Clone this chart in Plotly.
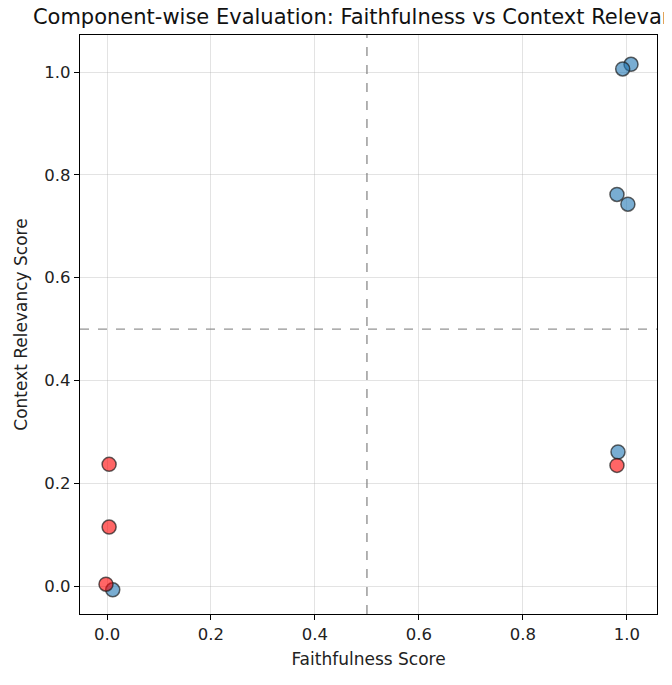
import plotly.graph_objects as go

# Data
blue_faith = [1.008, 0.992, 0.981, 1.002, 0.983, 0.011]
blue_ctx = [1.015, 1.006, 0.762, 0.743, 0.261, -0.007]
red_faith = [0.981, 0.004, 0.004, -0.002]
red_ctx = [0.235, 0.237, 0.115, 0.004]

x_ticks = [0.0, 0.2, 0.4, 0.6, 0.8, 1.0]
y_ticks = [0.0, 0.2, 0.4, 0.6, 0.8, 1.0]

font = "DejaVu Sans"

fig = go.Figure()
fig.add_trace(go.Scatter(
    x=blue_faith, y=blue_ctx, mode="markers",
    marker=dict(size=14, color="rgba(31,119,180,0.6)",
                line=dict(color="rgba(30,30,30,0.7)", width=1.5)),
    showlegend=False))
fig.add_trace(go.Scatter(
    x=red_faith, y=red_ctx, mode="markers",
    marker=dict(size=14, color="rgba(255,0,0,0.6)",
                line=dict(color="rgba(30,30,30,0.7)", width=1.5)),
    showlegend=False))

fig.add_vline(x=0.5, line=dict(color="rgba(128,128,128,0.85)", width=1.4, dash="dash"))
fig.add_hline(y=0.5, line=dict(color="rgba(128,128,128,0.85)", width=1.4, dash="dash"))

axis_common = dict(
    showline=True, linecolor="black", linewidth=1.3, mirror=True,
    ticks="outside", ticklen=5, tickcolor="black",
    showgrid=True, gridcolor="rgba(176,176,176,0.35)", gridwidth=1,
    zeroline=False, tickfont=dict(family=font, size=16.5, color="#222"),
)

fig.update_layout(
    width=672, height=685,
    margin=dict(l=67, r=23, t=27, b=79),
    paper_bgcolor="white", plot_bgcolor="white",
    title=dict(text="Component-wise Evaluation: Faithfulness vs Context Relevancy",
               x=358/672, xanchor="center", y=1 - 9/685, yanchor="middle",
               font=dict(family=font, size=21, color="#111")),
    xaxis=dict(range=[-0.052, 1.058], tickvals=x_ticks, tickformat=".1f",
               title=dict(text="Faithfulness Score", font=dict(family=font, size=17, color="#222"), standoff=10),
               **axis_common),
    yaxis=dict(range=[-0.054, 1.072], tickvals=y_ticks, tickformat=".1f",
               title=dict(text="Context Relevancy Score", font=dict(family=font, size=17, color="#222"), standoff=12),
               **axis_common),
)

fig.write_html("out.html")
